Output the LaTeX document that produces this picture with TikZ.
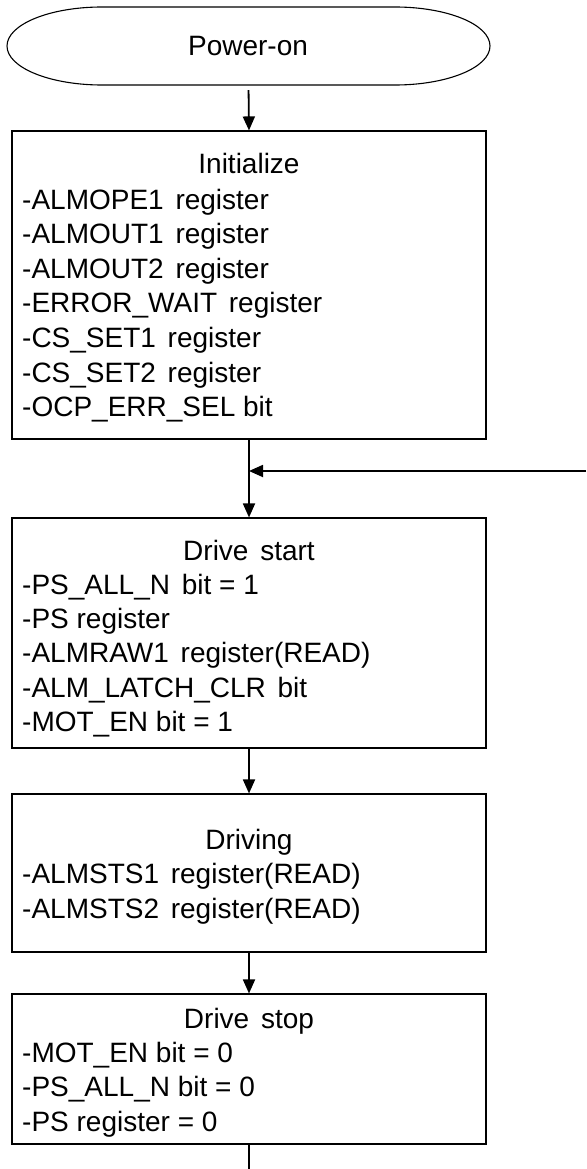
\documentclass[tikz,border=0pt]{standalone}
\usepackage{fontspec}
\setmainfont{Liberation Sans}
\usetikzlibrary{arrows.meta,calc}

% wider gap used between a register name and the following word
\newcommand{\wgap}{\hspace{0.42em}}

\tikzset{
  stepbox/.style={draw, line width=1.1pt, inner sep=0pt},
  txt/.style={anchor=base west, inner sep=0pt, font=\fontsize{28}{34}\selectfont},
  ttl/.style={anchor=base, inner sep=0pt, font=\fontsize{28}{34}\selectfont},
  flow/.style={line width=1.8pt, -{Triangle[length=14pt,width=12pt]}},
  plain/.style={line width=1.8pt}
}

\begin{document}
\begin{tikzpicture}[x=1pt,y=1pt]
\useasboundingbox (0,0) rectangle (586,-1169);

% start terminal
\node[inner sep=0pt, minimum width=483pt, minimum height=78pt] (pwr) at (248.5,-46) {};
\draw[line width=1.1pt] (102,-7) -- (395,-7)
  arc[start angle=90, end angle=-90, x radius=95, y radius=39]
  -- (102,-85)
  arc[start angle=270, end angle=90, x radius=95, y radius=39] -- cycle;
\node[ttl] (pwrT) at (248,-56) {Power-on};

% process boxes
\node[stepbox, minimum width=474pt, minimum height=308pt] (init)  at (249,-285) {};
\node[stepbox, minimum width=474pt, minimum height=230pt] (start) at (249,-633) {};
\node[stepbox, minimum width=474pt, minimum height=158pt] (run)   at (249,-873) {};
\node[stepbox, minimum width=474pt, minimum height=150pt] (stop)  at (249,-1069) {};

% Initialize
\node[ttl] (initT) at (249,-174) {Initialize};
\foreach \t [count=\i from 0] in {
  {-ALMOPE1\wgap register},
  {-ALMOUT1\wgap register},
  {-ALMOUT2\wgap register},
  {-ERROR\_WAIT\wgap register},
  {-CS\_SET1\wgap register},
  {-CS\_SET2\wgap register},
  {-OCP\_ERR\_SEL bit}}
  \node[txt] (initL\i) at (22,-209-34.6*\i) {\t};

% Drive start
\node[ttl] (startT) at (249,-560) {Drive\wgap start};
\foreach \t [count=\i from 0] in {
  {-PS\_ALL\_N\wgap bit = 1},
  {-PS register},
  {-ALMRAW1\wgap register(READ)},
  {-ALM\_LATCH\_CLR\wgap bit},
  {-MOT\_EN bit = 1}}
  \node[txt] (startL\i) at (22,-594-34.4*\i) {\t};

% Driving
\node[ttl] (runT) at (249,-849) {Driving};
\foreach \t [count=\i from 0] in {
  {-ALMSTS1\wgap register(READ)},
  {-ALMSTS2\wgap register(READ)}}
  \node[txt] (runL\i) at (22,-883-35*\i) {\t};

% Drive stop
\node[ttl] (stopT) at (249,-1028) {Drive\wgap stop};
\foreach \t [count=\i from 0] in {
  {-MOT\_EN bit = 0},
  {-PS\_ALL\_N bit = 0},
  {-PS register = 0}}
  \node[txt] (stopL\i) at (22,-1062-34.5*\i) {\t};

% connectors
\coordinate (back) at (586,-471);
\coordinate (join) at (init.south |- back);
\coordinate (out)  at (249,-1169);

\draw[flow, shorten <=5pt] (pwr.south) -- (init.north);
\draw[flow] (init.south) -- (start.north);
\draw[flow] (back) -- (join);
\draw[flow] (start.south) -- (run.north);
\draw[flow] (run.south) -- (stop.north);
\draw[plain] (stop.south) -- (out);
\end{tikzpicture}
\end{document}
